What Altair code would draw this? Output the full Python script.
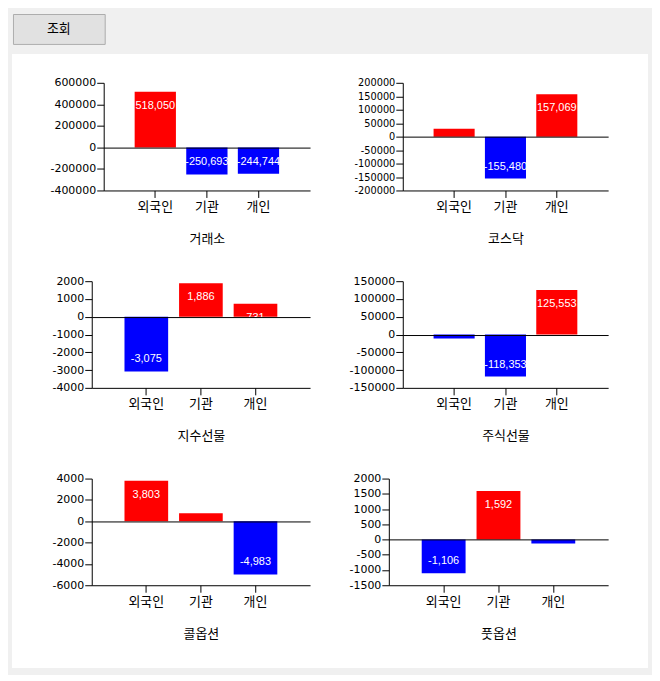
import altair as alt
import pandas as pd

# ---- data ----
categories = ["외국인", "기관", "개인"]
chart_titles = ["거래소", "코스닥", "지수선물", "주식선물", "콜옵션", "풋옵션"]
v_exchange = [518050, -250693, -244744]
v_kosdaq = [29517, -155480, 157069]
v_index_fut = [-3075, 1886, 731]
v_stock_fut = [-11000, -118353, 125553]
v_call = [3803, 750, -4983]
v_put = [-1106, 1592, -130]
series = [v_exchange, v_kosdaq, v_index_fut, v_stock_fut, v_call, v_put]

ticks_exchange = [-400000, -200000, 0, 200000, 400000, 600000]
ticks_kosdaq = [-200000, -150000, -100000, -50000, 0, 50000, 100000, 150000, 200000]
ticks_index_fut = [-4000, -3000, -2000, -1000, 0, 1000, 2000]
ticks_stock_fut = [-150000, -100000, -50000, 0, 50000, 100000, 150000]
ticks_call = [-6000, -4000, -2000, 0, 2000, 4000]
ticks_put = [-1500, -1000, -500, 0, 500, 1000, 1500, 2000]
tick_sets = [ticks_exchange, ticks_kosdaq, ticks_index_fut, ticks_stock_fut, ticks_call, ticks_put]

button_label = ["조회"]

# ---- layout / style ----
cell_w = 318
cell_h = [200, 200, 199, 199, 215, 215]
x_ranges = [[91, 298], [73, 279], [79, 298], [73, 279], [79, 298], [59, 279]]
y_ranges = [[136, 28], [136, 28], [134, 27], [134, 27], [133, 26], [133, 26]]
y_label_sizes = [11, 9.8, 11, 11, 11, 11]

KFONT = "Noto Sans CJK KR"
NFONT = "Liberation Sans"
YFONT = "DejaVu Sans"

LABEL_EXPR = "(datum.value < 0 ? '-' : '') + format(abs(datum.value), ',')"


def cell(i):
    df = pd.DataFrame({"category": categories, "value": series[i]})
    x0, x1 = x_ranges[i]
    yb, yt = y_ranges[i]
    h = cell_h[i]
    ticks = tick_sets[i]
    xenc = alt.X(
        "category:N",
        sort=categories,
        scale=alt.Scale(range=[x0, x1], paddingInner=0.2, paddingOuter=0.6),
        axis=alt.Axis(
            title=chart_titles[i],
            offset=yb - h,
            labelAngle=0,
            labelFont=KFONT,
            labelFontSize=13,
            labelColor="black",
            labelPadding=3,
            tickSize=7,
            tickColor="black",
            domainColor="black",
            titleFont=KFONT,
            titleFontSize=13,
            titleFontWeight="normal",
            titleColor="black",
            titlePadding=19,
        ),
    )
    yenc = alt.Y(
        "value:Q",
        scale=alt.Scale(domain=[ticks[0], ticks[-1]], range=[yb, yt], nice=False),
        axis=alt.Axis(
            title=None,
            values=ticks,
            labelExpr="'' + datum.value",
            offset=-x0,
            labelFont=YFONT,
            labelFontSize=y_label_sizes[i],
            labelColor="black",
            labelPadding=1,
            tickSize=7,
            tickColor="black",
            domainColor="black",
            grid=True,
            gridColor={"condition": {"test": "datum.value === 0", "value": "black"}, "value": "transparent"},
            zindex=1,
        ),
    )
    bars = alt.Chart(df).mark_bar().encode(
        x=xenc,
        y=yenc,
        color=alt.condition("datum.value > 0", alt.value("#FF0000"), alt.value("#0000FF")),
    )
    pos = (
        alt.Chart(df)
        .transform_filter("datum.value > 0")
        .transform_calculate(label=LABEL_EXPR)
        .mark_text(dy=14, font=NFONT, fontSize=11, color="white", baseline="middle")
        .encode(x=xenc, y=yenc, text="label:N")
    )
    neg = (
        alt.Chart(df)
        .transform_filter("datum.value < 0")
        .transform_calculate(label=LABEL_EXPR)
        .mark_text(dy=-12, font=NFONT, fontSize=11, color="white", baseline="middle")
        .encode(x=xenc, y=yenc, text="label:N")
    )
    return alt.layer(bars, pos, neg).properties(
        width=cell_w,
        height=h,
        view=alt.ViewBackground(fill="white", stroke="white", strokeWidth=2),
    )


header = (
    alt.Chart(pd.DataFrame({"label": button_label}))
    .mark_text(font=KFONT, fontSize=13, color="black", baseline="middle")
    .encode(text="label:N")
    .properties(width=92, height=30, view=alt.ViewBackground(fill="#E1E1E1", stroke="#ADADAD"))
)

grid = alt.concat(*[cell(i) for i in range(6)], columns=2, spacing=0, bounds="flush")

chart = (
    alt.vconcat(header, grid, spacing=9)
    .properties(
        padding={"left": 4, "top": 4, "right": 4, "bottom": 6},
        background="#F0F0F0",
    )
)

chart.save("out.html", embed_options={"renderer": "svg", "actions": False})
